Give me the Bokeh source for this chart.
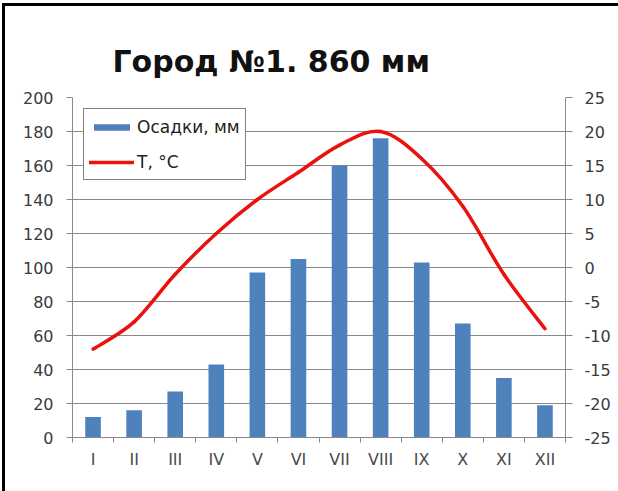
from bokeh.plotting import figure
from bokeh.models import Range1d, LinearAxis, FixedTicker, Legend, LegendItem, ColumnDataSource
from bokeh.embed import file_html
from bokeh.resources import INLINE

# ---- data ----
months = ["I", "II", "III", "IV", "V", "VI", "VII", "VIII", "IX", "X", "XI", "XII"]
precip_mm = [12, 16, 27, 43, 97, 105, 160, 176, 103, 67, 35, 19]
temp_c = [-12, -8, -1, 5, 10, 14, 18, 20, 16, 9, -1, -9]
title_text = "Город №1. 860 мм"
precip_ticks = list(range(0, 201, 20))
temp_ticks = list(range(-25, 26, 5))

FONT = "DejaVu Sans"
GRID = "#8a8a8a"
TXT = "#3a3a3a"
BLUE = "#4F81BD"
RED = "#E8130F"

xs = list(range(1, len(months) + 1))

p = figure(frame_width=493, frame_height=340,
           x_range=Range1d(0.5, len(months) + 0.5), y_range=Range1d(0, 200),
           output_backend="svg", toolbar_location=None,
           min_border_left=67, min_border_right=53, min_border_top=91, min_border_bottom=54,
           background_fill_color="white", border_fill_color="white")
p.outline_line_color = None
p.extra_y_ranges = {"temp": Range1d(-25, 25)}
p.margin = (3, 0, 0, 2)
p.styles = {"border-left": "3px solid black", "border-top": "3px solid black"}

# title
p.title.text = title_text
p.title.text_font = FONT
p.title.text_font_size = "30px"
p.title.text_font_style = "bold"
p.title.text_color = "#111111"
p.title.align = "left"
p.title.offset = 40
p.title.standoff = 38

# bars
src = ColumnDataSource(dict(x=xs, m=months, precip=precip_mm))
bars = p.vbar(x="x", top="precip", width=0.38, bottom=0, source=src,
              fill_color=BLUE, line_color=None)

# smooth temperature curve (Bezier segments through the data points)
n = len(temp_c)
x0, y0, x1, y1, cx0, cy0, cx1, cy1 = [], [], [], [], [], [], [], []
for i in range(n - 1):
    xa, ya = xs[i], temp_c[i]
    xb, yb = xs[i + 1], temp_c[i + 1]
    xp, yp = (xs[i - 1], temp_c[i - 1]) if i > 0 else (xa, ya)
    xn, yn = (xs[i + 2], temp_c[i + 2]) if i + 2 < n else (xb, yb)
    x0.append(xa); y0.append(ya); x1.append(xb); y1.append(yb)
    cx0.append(xa + (xb - xp) / 6.0); cy0.append(ya + (yb - yp) / 6.0)
    cx1.append(xb - (xn - xa) / 6.0); cy1.append(yb - (yn - ya) / 6.0)
line = p.bezier(x0=x0, y0=y0, x1=x1, y1=y1, cx0=cx0, cy0=cy0, cx1=cx1, cy1=cy1,
                line_color=RED, line_width=3.5, line_cap="round", y_range_name="temp")

# x axis with boundary ticks
xax = p.xaxis[0]
xax.ticker = FixedTicker(ticks=xs, minor_ticks=[x - 0.5 for x in xs] + [len(xs) + 0.5])
xax.major_label_overrides = {x: m for x, m in zip(xs, months)}
xax.major_tick_line_color = None
xax.major_tick_out = 0
xax.major_tick_in = 0
xax.minor_tick_line_color = GRID
xax.minor_tick_out = 5
xax.minor_tick_in = 0
xax.axis_line_color = GRID
xax.major_label_text_font = FONT
xax.major_label_text_font_size = "16px"
xax.major_label_text_color = "#4a4a4a"
xax.major_label_standoff = 7

# left axis
yax = p.yaxis[0]
yax.ticker = FixedTicker(ticks=precip_ticks)
yax.axis_line_color = GRID
yax.major_tick_line_color = GRID
yax.major_tick_out = 6
yax.major_tick_in = 0
yax.minor_tick_line_color = None
yax.major_label_text_font = FONT
yax.major_label_text_font_size = "16px"
yax.major_label_text_color = TXT
yax.major_label_standoff = 13

# right axis
rax = LinearAxis(y_range_name="temp", ticker=FixedTicker(ticks=temp_ticks))
rax.major_label_overrides = {t: str(t) for t in temp_ticks}
rax.axis_line_color = GRID
rax.major_tick_line_color = GRID
rax.major_tick_out = 7
rax.major_tick_in = 0
rax.minor_tick_line_color = None
rax.major_label_text_font = FONT
rax.major_label_text_font_size = "16px"
rax.major_label_text_color = TXT
rax.major_label_standoff = 12
p.add_layout(rax, "right")

# grid
p.xgrid.grid_line_color = None
p.ygrid.grid_line_color = GRID
p.ygrid.grid_line_width = 1
p.ygrid.ticker = FixedTicker(ticks=precip_ticks)

# legend
legend = Legend(items=[LegendItem(label="Осадки, мм", renderers=[bars]),
                       LegendItem(label="T, °C", renderers=[line])],
                location=(11, 257))
legend.label_text_font = FONT
legend.label_text_font_size = "17px"
legend.label_text_color = "#222222"
legend.glyph_width = 45
legend.glyph_height = 8
legend.label_height = 25
legend.label_standoff = 3
legend.padding = 5
legend.spacing = 10
legend.margin = 0
legend.border_line_color = "black"
legend.border_line_width = 1.5
legend.background_fill_color = "white"
legend.background_fill_alpha = 1.0
p.add_layout(legend, "center")

open("out.html", "w").write(file_html(p, INLINE))
